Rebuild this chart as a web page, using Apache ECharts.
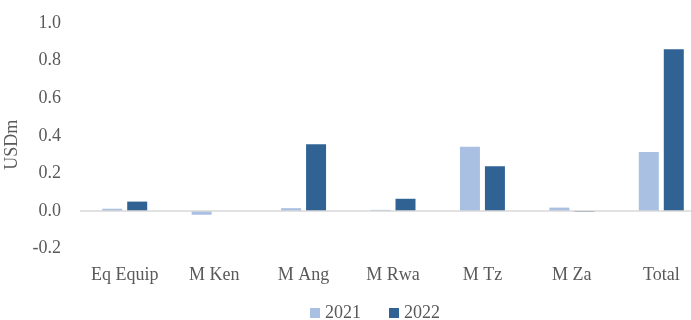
<!DOCTYPE html>
<html>
<head>
<meta charset="utf-8">
<script src="https://cdn.jsdelivr.net/npm/echarts@6/dist/echarts.min.js"></script>
<style>
  html, body { margin: 0; padding: 0; background: #fff; }
  #chart { width: 691px; height: 320px; }
</style>
</head>
<body>
<div id="chart"></div>
<script>
const categories = ['Eq Equip', 'M Ken', 'M Ang', 'M Rwa', 'M Tz', 'M Za', 'Total']
const values2021 = [0.012, -0.02, 0.015, 0.006, 0.342, 0.018, 0.314]
const values2022 = [0.05, 0, 0.355, 0.065, 0.238, -0.005, 0.86]

const font = 'Liberation Serif'
const textColor = '#595959'

const myChart = echarts.init(document.getElementById('chart'))
myChart.setOption({
  animation: false,
  textStyle: { fontFamily: font },
  // plot runs slightly past the right edge, as in the source
  grid: { left: 80, width: 626, top: 23, bottom: 71.4, outerBoundsMode: 'none' },
  legend: {
    top: 299,
    left: 305,
    itemWidth: 10,
    itemHeight: 10,
    itemGap: 28,
    icon: 'rect',
    textStyle: { fontFamily: font, fontSize: 18, color: textColor },
    data: ['2021', '2022']
  },
  xAxis: {
    type: 'category',
    data: categories,
    axisLine: { show: false },
    axisTick: { show: false },
    axisLabel: { color: textColor, fontSize: 18, margin: 18, fontFamily: font, interval: 0 }
  },
  yAxis: {
    type: 'value',
    min: -0.2,
    max: 1.0,
    interval: 0.2,
    name: 'USDm',
    nameLocation: 'middle',
    nameGap: 52,
    nameTextStyle: { color: textColor, fontSize: 18, fontFamily: font, padding: [0, 0, 0, -18] },
    axisLine: { show: false },
    axisTick: { show: false },
    splitLine: { show: false },
    axisLabel: {
      color: textColor,
      fontSize: 18,
      margin: 19,
      fontFamily: font,
      formatter: v => v.toFixed(1)
    }
  },
  series: [
    {
      name: '2021',
      type: 'bar',
      data: values2021,
      barWidth: 20,
      barGap: '25%',
      itemStyle: { color: '#A9C0E2' },
      markLine: {
        silent: true,
        symbol: 'none',
        label: { show: false },
        lineStyle: { color: '#d9d9d9', type: 'solid', width: 1.5 },
        data: [{ yAxis: 0 }]
      }
    },
    {
      name: '2022',
      type: 'bar',
      data: values2022,
      barWidth: 20,
      itemStyle: { color: '#306394' }
    }
  ]
})
</script>
</body>
</html>
